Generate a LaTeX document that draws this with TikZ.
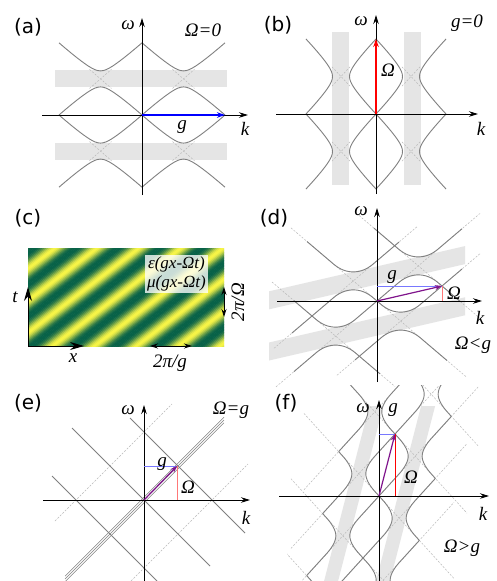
\documentclass[tikz,border=0pt]{standalone}
\usepackage{fontspec}
\setmainfont{Liberation Serif}
\newfontfamily\lblfont{DejaVu Sans}
\usetikzlibrary{arrows.meta}
\definecolor{curvegray}{RGB}{128,128,128}
\definecolor{bandgray}{RGB}{229,229,229}
\definecolor{dashgray}{RGB}{185,185,185}
\definecolor{cgreen}{RGB}{8,98,72}
\definecolor{cyellow}{RGB}{248,245,70}
\definecolor{cpurple}{RGB}{128,20,140}
\definecolor{lblue}{RGB}{120,120,255}
\definecolor{lred}{RGB}{255,120,120}
\tikzset{
 curve/.style={curvegray, line width=0.9pt},
 dsh/.style={dashgray, line width=0.5pt, dash pattern=on 2pt off 1.5pt},
 band/.style={fill=bandgray, draw=none},
 axis/.style={black, line width=0.9pt, -{Stealth[length=9pt,width=5.5pt]}},
 varrow/.style={line width=1.4pt, -{Stealth[length=8pt,width=5.5pt]}},
 plbl/.style={font=\lblfont\fontsize{20}{20}\selectfont, inner sep=0pt},
 mlbl/.style={font=\itshape\fontsize{19}{19}\selectfont, inner sep=0pt},
 bigarrow/.style={black, line width=1pt, -{Stealth[length=14pt,width=8pt]}},
 dblarrow/.style={black, line width=0.8pt, {Stealth[length=8pt,width=5pt]}-{Stealth[length=8pt,width=5pt]}},
}
\newcommand\Lseg[6][curve]{\draw[#1] ({#5},{(#4)+(#2)*((#5)-(#3))}) -- ({#6},{(#4)+(#2)*((#6)-(#3))});}
\newcommand\Wseg[6][curve]{\draw[#1] ({(#3)+((#5)-(#4))/(#2)},{#5}) -- ({(#3)+((#6)-(#4))/(#2)},{#6});}
\newcommand\Wgap[4]{%
 \draw[curve] plot[domain=-#3:#3,samples=31,smooth,variable=\u] ({(#1)+\u},{(#2)+sqrt(\cc*\cc*\u*\u+(#4)*(#4)*(1-\u*\u/((#3)*(#3)))^2)});
 \draw[curve] plot[domain=-#3:#3,samples=31,smooth,variable=\u] ({(#1)+\u},{(#2)-sqrt(\cc*\cc*\u*\u+(#4)*(#4)*(1-\u*\u/((#3)*(#3)))^2)});}
\newcommand\Kgap[4]{%
 \draw[curve] plot[domain=-#3:#3,samples=31,smooth,variable=\u] ({(#1)+sqrt(\u*\u/(\cc*\cc)+(#4)*(#4)*(1-\u*\u/((#3)*(#3)))^2)},{(#2)+\u});
 \draw[curve] plot[domain=-#3:#3,samples=31,smooth,variable=\u] ({(#1)-sqrt(\u*\u/(\cc*\cc)+(#4)*(#4)*(1-\u*\u/((#3)*(#3)))^2)},{(#2)+\u});}
\newcommand\Xdash[3]{%
 \draw[dsh] ({(#1)-(#3)},{(#2)-\cc*(#3)}) -- ({(#1)+(#3)},{(#2)+\cc*(#3)});
 \draw[dsh] ({(#1)-(#3)},{(#2)+\cc*(#3)}) -- ({(#1)+(#3)},{(#2)-\cc*(#3)});}

\begin{document}
\begin{tikzpicture}[x=1pt,y=-1pt]
\useasboundingbox[fill=white] (0,0) rectangle (496,581);

%%%%%%%%%%%%%%%% (a)
\begin{scope}[shift={(142,115)},yscale=-1]
\def\cc{0.87}
\fill[band] (-87,27.6) rectangle (85,44.6);
\fill[band] (-87,-44.6) rectangle (85,-27.6);
\foreach \a in {-41.5,41.5} \foreach \b in {-36.1,36.1} {\Xdash{\a}{\b}{11}}
\foreach \a in {-41.5,41.5} \foreach \b in {-36.1,36.1} {\Wgap{\a}{\b}{41.5}{8}}
\draw[axis] (-100,0) -- (106,0);
\draw[axis] (0,-80) -- (0,97);
\coordinate (oa) at (0,0); \coordinate (ga) at (83,0);
\draw[varrow,blue] (oa) -- (ga);
\end{scope}
\node[plbl] (la) at (28,27) {(a)};
\node[mlbl] (wa) at (128,25) {ω};
\node[mlbl] (ta) at (203,30) {Ω=0};
\node[mlbl] (ka) at (245,129) {k};
\node[mlbl] (gla) at (182,127) {g};

%%%%%%%%%%%%%%%% (b)
\begin{scope}[shift={(376,114)},yscale=-1]
\def\cc{1.07}
\fill[band] (-44.5,-71) rectangle (-27.5,82);
\fill[band] (27.5,-71) rectangle (44.5,82);
\foreach \a in {-35,35} \foreach \b in {-37.5,37.5} {\Xdash{\a}{\b}{9}}
\foreach \a in {-35,35} \foreach \b in {-37.5,37.5} {\Kgap{\a}{\b}{37.5}{8.5}}
\draw[axis] (-100,0) -- (102,0);
\draw[axis] (0,-80) -- (0,99);
\coordinate (ob) at (0,0); \coordinate (wb) at (0,75);
\draw[varrow,red] (ob) -- (wb);
\end{scope}
\node[plbl] (lb) at (278,25) {(b)};
\node[mlbl] (wlb) at (361,21) {ω};
\node[mlbl] (tb) at (467,23) {g=0};
\node[mlbl] (kb) at (481,129) {k};
\node[mlbl] (Ob) at (388,70) {Ω};

%%%%%%%%%%%%%%%% (c)
\begin{scope}
\clip (28,248) rectangle (224,346);
\foreach \i in {0,...,160} {
  \pgfmathsetmacro\s{8.35+\i*0.05}
  \pgfmathtruncatemacro\mx{100*((0.5+0.5*cos(360*(\s-0.074)))^1.4)}
  \draw[color=cyellow!\mx!cgreen, line width=1.7pt] ({42*(\s-235/32)},235) -- ({42*(\s-360/32)},360);
}
\end{scope}
\node[fill=white, fill opacity=0.78, text opacity=1, inner sep=2pt, align=center,
  font=\itshape\fontsize{17}{19}\selectfont] (eps) at (176.5,274) {ε(gx-Ωt)\\μ(gx-Ωt)};
\coordinate (oc) at (28,346);
\coordinate (tc) at (28,287);
\coordinate (xc) at (84,346);
\draw[bigarrow] (oc) -- (tc);
\draw[bigarrow] (oc) -- (xc);
\coordinate (pa) at (150,346); \coordinate (pb) at (192,346);
\draw[dblarrow] (pa) -- (pb);
\coordinate (qa) at (224,287); \coordinate (qb) at (224,317);
\draw[dblarrow] (qa) -- (qb);
\node[plbl] (lc) at (28,218) {(c)};
\node[mlbl] (tlc) at (15,297) {t};
\node[mlbl] (xlc) at (73,358) {x};
\node[mlbl] (pgc) at (170,363) {2π/g};
\node[mlbl, rotate=90] (poc) at (238,302) {2π/Ω};

%%%%%%%%%%%%%%%% (d)
\begin{scope}[shift={(377,301)},yscale=-1]
\def\cc{0.85}
\fill[band] (-108,-8.34) -- (88,36.89) -- (88,54.89) -- (-108,9.66) -- cycle;
\fill[band] (-108,-59.51) -- (88,-14.27) -- (88,3.73) -- (-108,-41.51) -- cycle;
\begin{scope}
\clip (-110,-88) rectangle (115,92);
\Lseg[dsh]{0.85}{0}{0}{-101}{103}
\Lseg[dsh]{-0.85}{0}{0}{-86}{90}
\Lseg[dsh]{-0.85}{65}{15}{-18}{105}
\Lseg[dsh]{-0.85}{-65}{-15}{-105}{18}
\Lseg[dsh]{0.85}{-65}{-15}{-103}{40}
\Lseg[dsh]{0.85}{65}{15}{-40}{103}
\end{scope}
\Lseg{0.85}{0}{0}{-83}{-61.32}
\Lseg{0.85}{0}{0}{-21.32}{21.32}
\Lseg{0.85}{0}{0}{61.32}{85}
\Lseg{-0.85}{0}{0}{-70}{-43.68}
\Lseg{-0.85}{0}{0}{-3.68}{3.68}
\Lseg{-0.85}{0}{0}{43.68}{70}
\Lseg{-0.85}{65}{15}{-3}{21.32}
\Lseg{-0.85}{65}{15}{61.32}{83}
\Lseg{-0.85}{-65}{-15}{-83}{-61.32}
\Lseg{-0.85}{-65}{-15}{-21.32}{3}
\Lseg{0.85}{-65}{-15}{-85}{-43.68}
\Lseg{0.85}{-65}{-15}{-3.68}{22}
\Lseg{0.85}{65}{15}{-22}{3.68}
\Lseg{0.85}{65}{15}{43.68}{85}
\Wgap{41.32}{35.12}{20}{9}
\Wgap{-23.68}{20.12}{20}{9}
\Wgap{-41.32}{-35.12}{20}{9}
\Wgap{23.68}{-20.12}{20}{9}
\draw[axis] (-100,0) -- (105,0);
\draw[axis] (0,-81) -- (0,93);
\coordinate (od) at (0,0); \coordinate (gd) at (65,15); \coordinate (bd) at (0,15); \coordinate (rd) at (65,0);
\draw[lblue, line width=0.8pt] (bd) -- (gd);
\draw[lred, line width=0.8pt] (gd) -- (rd);
\draw[cpurple, line width=1.2pt, -{Stealth[length=7pt,width=5pt]}] (od) -- (gd);
\end{scope}
\node[plbl] (ld) at (274,218) {(d)};
\node[mlbl] (wld) at (361,211) {ω};
\node[mlbl] (gld) at (392,277) {g};
\node[mlbl] (Old) at (454,293) {Ω};
\node[mlbl] (kd) at (480,318) {k};
\node[mlbl] (td) at (473,345) {Ω<g};

%%%%%%%%%%%%%%%% (e)
\begin{scope}[shift={(144,500)},yscale=-1]
\draw[dsh] (-89,-21) -- (28,96);
\draw[dsh] (-13,-81) -- (104,36);
\foreach \d in {-2.8,0,2.8} \draw[curvegray, line width=0.6pt] (-79,{-79+\d}) -- (80,{80+\d});
\draw[curve] (-72,72) -- (66,-66);
\draw[curve] (-14,82) -- (101,-33);
\draw[curve] (-92,24) -- (13,-81);
\draw[axis] (-101,0) -- (106,0);
\draw[axis] (0,-81) -- (0,95);
\coordinate (oe) at (0,0); \coordinate (ge) at (33,34); \coordinate (be) at (0,34); \coordinate (re) at (33,0);
\draw[lblue, line width=0.8pt] (be) -- (ge);
\draw[lred, line width=0.8pt] (ge) -- (re);
\draw[cpurple, line width=1.2pt, -{Stealth[length=7pt,width=5pt]}] (oe) -- (ge);
\end{scope}
\node[plbl] (le) at (28,403) {(e)};
\node[mlbl] (wle) at (128,410) {ω};
\node[mlbl] (te) at (231,410) {Ω=g};
\node[mlbl] (gle) at (162,464) {g};
\node[mlbl] (Ole) at (188,487) {Ω};
\node[mlbl] (ke) at (246,518) {k};

%%%%%%%%%%%%%%%% (f)
\begin{scope}[shift={(379,496)},yscale=-1]
\def\cc{1.1}
\fill[band] (-3,-85) -- (11,-85) -- (56.1,90) -- (42.1,90) -- cycle;
\fill[band] (-54.9,-85) -- (-40.9,-85) -- (4.3,90) -- (-9.7,90) -- cycle;
\begin{scope}
\clip (-92,-86) rectangle (112,111);
\Lseg[dsh]{1.1}{0}{0}{-100}{100}
\Lseg[dsh]{-1.1}{0}{0}{-75}{75}
\Lseg[dsh]{1.1}{16}{62}{-88}{60}
\Lseg[dsh]{-1.1}{16}{62}{-30}{88}
\Lseg[dsh]{1.1}{-16}{-62}{-60}{88}
\Lseg[dsh]{-1.1}{-16}{-62}{-88}{30}
\Lseg[dsh]{-1.1}{32}{124}{20}{100}
\Lseg[dsh]{1.1}{32}{124}{-75}{10}
\Lseg[dsh]{1.1}{-32}{-124}{-10}{75}
\Lseg[dsh]{-1.1}{-32}{-124}{-100}{-20}
\end{scope}
\begin{scope}
\clip (-100,-86) rectangle (112,111);
\Wseg{1.1}{0}{0}{-79.6}{-57.8}
\Wseg{1.1}{0}{0}{-21.8}{21.8}
\Wseg{1.1}{0}{0}{57.8}{79.6}
\Wseg{-1.1}{0}{0}{-44.4}{-40.2}
\Wseg{-1.1}{0}{0}{-4.2}{4.2}
\Wseg{-1.1}{0}{0}{40.2}{44.4}
\Wseg{1.1}{16}{62}{-17.6}{4.2}
\Wseg{1.1}{16}{62}{40.2}{83.8}
\Wseg{-1.1}{16}{62}{17.6}{21.8}
\Wseg{-1.1}{16}{62}{57.8}{66.2}
\Wseg{-1.1}{16}{62}{102.2}{112}
\Wseg{1.1}{-16}{-62}{-90}{-40.2}
\Wseg{1.1}{-16}{-62}{-4.2}{17.6}
\Wseg{-1.1}{-16}{-62}{-66.2}{-57.8}
\Wseg{-1.1}{-16}{-62}{-21.8}{-17.6}
\Wseg{-1.1}{32}{124}{79.6}{83.8}
\Wseg{1.1}{32}{124}{44.4}{66.2}
\Wseg{1.1}{32}{124}{102.2}{112}
\Wseg{1.1}{-32}{-124}{-66.2}{-44.4}
\Wseg{-1.1}{-32}{-124}{-90}{-79.6}
\Kgap{36.18}{39.8}{18}{7}
\Kgap{-36.18}{-39.8}{18}{7}
\Kgap{20.18}{-22.2}{18}{7}
\Kgap{-20.18}{22.2}{18}{7}
\Kgap{52.18}{101.8}{18}{7}
\Kgap{-4.18}{84.2}{18}{7}
\Kgap{4.18}{-84.2}{18}{7}
\end{scope}
\draw[axis] (-100,0) -- (110,0);
\draw[axis] (0,-85) -- (0,96);
\coordinate (of) at (0,0); \coordinate (gf) at (16,62); \coordinate (bf) at (0,62); \coordinate (rf) at (16,0);
\draw[lblue, line width=0.8pt] (bf) -- (gf);
\draw[red, line width=0.8pt] (gf) -- (rf);
\draw[cpurple, line width=1.2pt, -{Stealth[length=7pt,width=5pt]}] (of) -- (gf);
\end{scope}
\node[plbl] (lf) at (286,403) {(f)};
\node[mlbl] (wlf) at (363,408) {ω};
\node[mlbl] (glf) at (393,410) {g};
\node[mlbl] (Olf) at (411,477) {Ω};
\node[mlbl] (kf) at (483,514) {k};
\node[mlbl] (tf) at (462,548) {Ω>g};
\end{tikzpicture}
\end{document}
